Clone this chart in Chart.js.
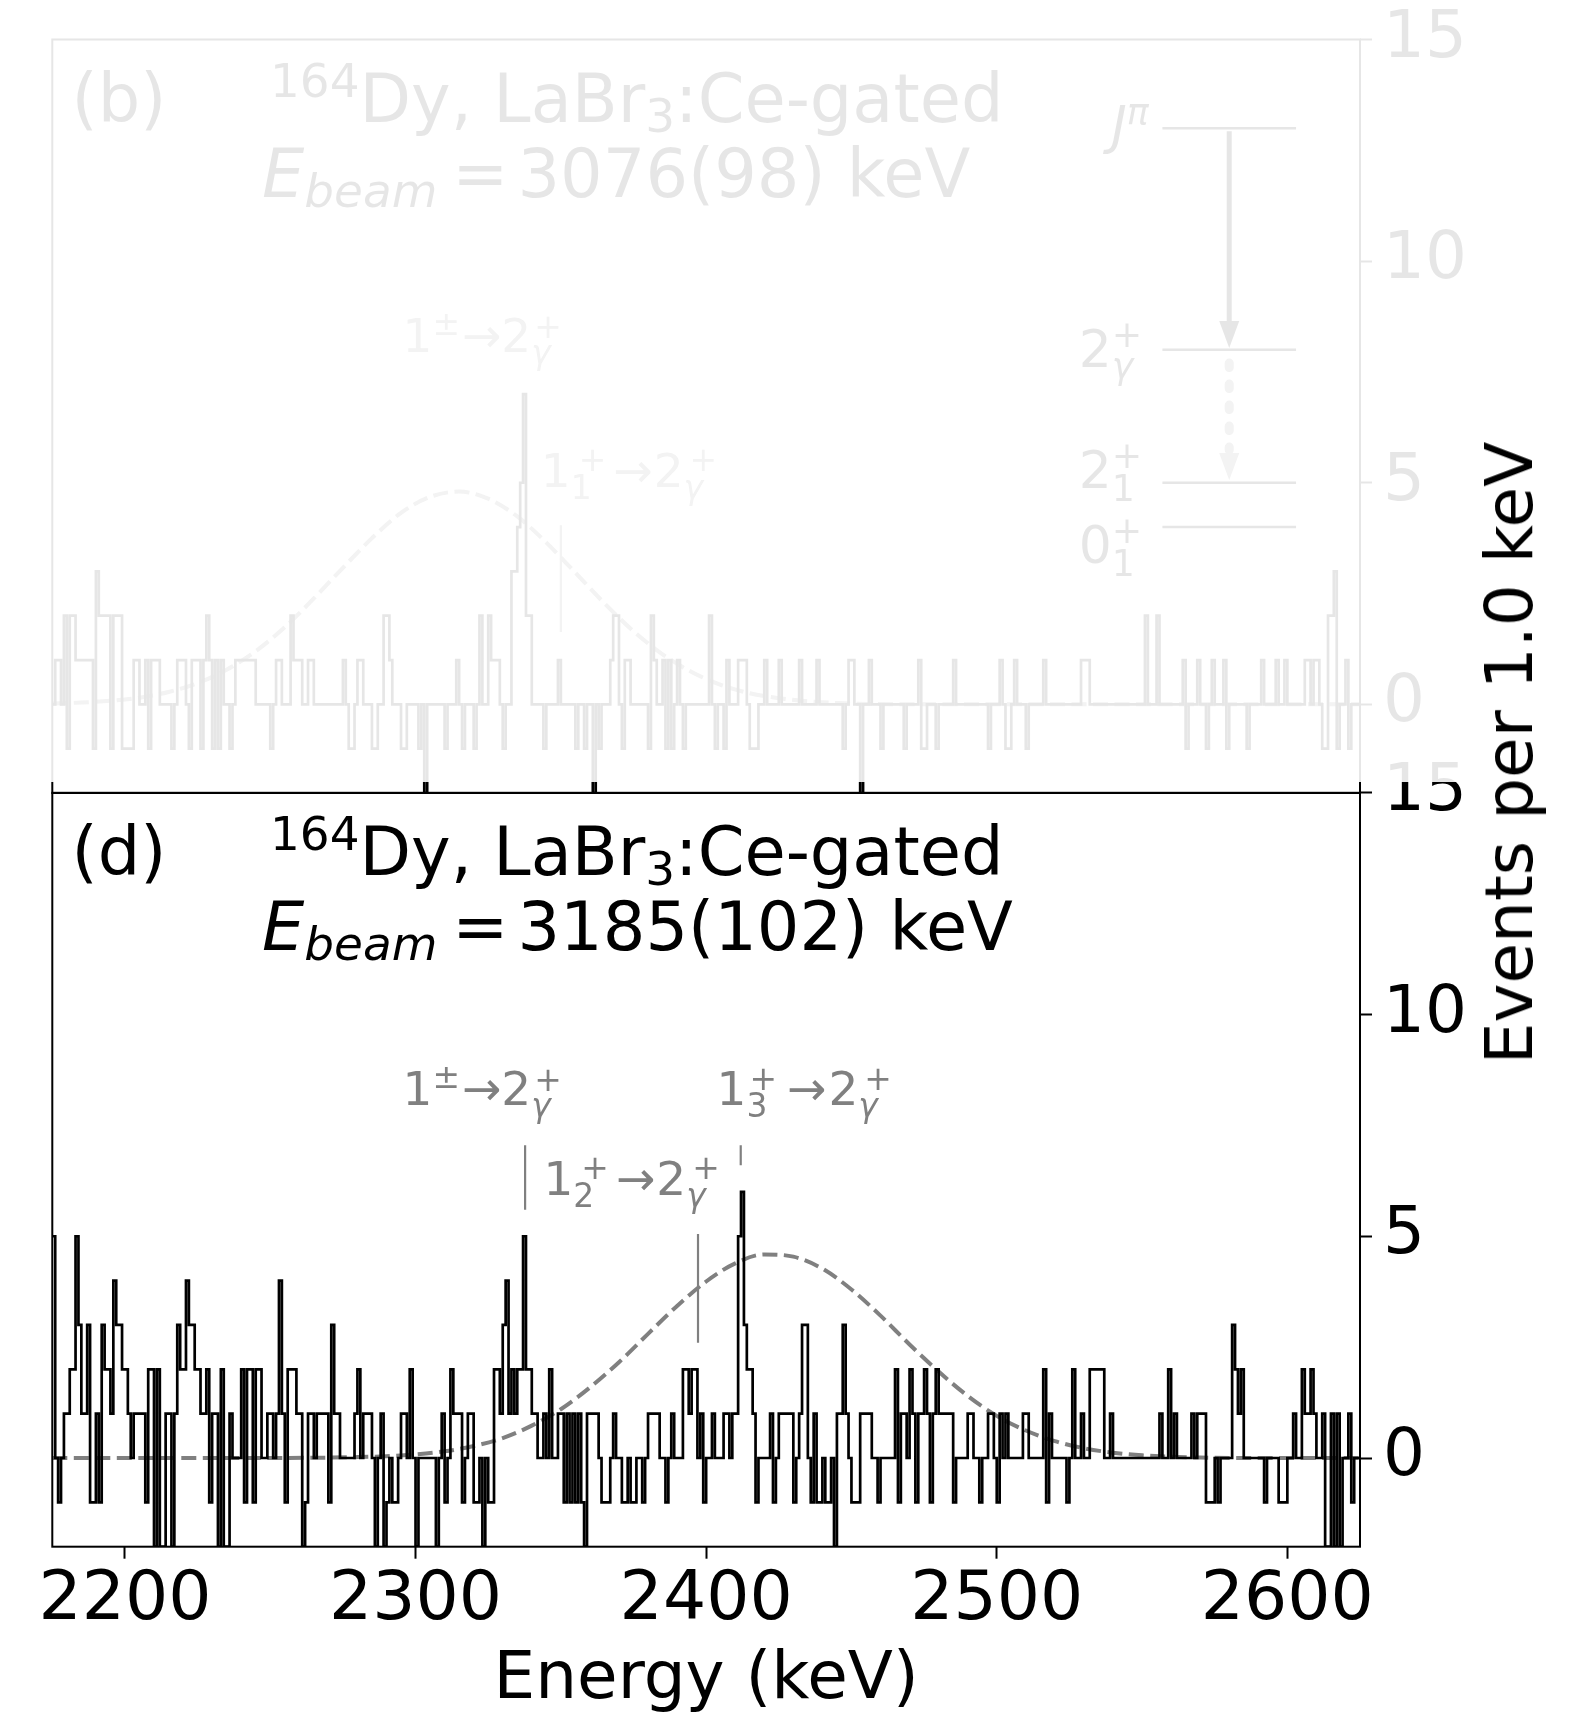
<!DOCTYPE html>
<html>
<head>
<meta charset="utf-8">
<script src="https://cdn.jsdelivr.net/npm/chart.js@4.4.0/dist/chart.umd.min.js"></script>
<style>
  html, body { margin: 0; padding: 0; background: #fff; }
  #wrap { position: relative; width: 1578px; height: 1712px; overflow: hidden; background: #fff; }
  #topCanvas { position: absolute; left: 0; top: 0; z-index: 2; }
  #botCanvas { position: absolute; left: 0; top: 700px; z-index: 1; }
  #ylab {
    position: absolute; left: 1510px; top: 753px; z-index: 3;
    transform: translate(-50%, -50%) rotate(-90deg);
    font: 66px "DejaVu Sans", sans-serif; line-height: 66px;
    white-space: nowrap; color: #000;
  }
</style>
</head>
<body>
<div id="wrap">
  <canvas id="botCanvas" width="1578" height="1012"></canvas>
  <canvas id="topCanvas" width="1578" height="800"></canvas>
  <div id="ylab">Events per 1.0 keV</div>
</div>
<script>
// ==========================================================================
// DATA (1 keV bins)
// ==========================================================================
const binStart = 2175;
const binWidth = 1;
const xRange = [2175, 2625];
const yRange = [-2, 15];
const xTicks = [2200, 2300, 2400, 2500, 2600];
const yTicks = [0, 5, 10, 15];

// panel (b): E_beam = 3076(98) keV (faded panel)
const countsB = [
  0, 1, 1, 0, 2,-1, 2, 2, 1, 1,
  1, 1, 1, 1,-1, 3, 2, 2, 2, 2,
 -1, 2, 2, 2,-1,-1,-1,-1, 1, 1,
  0, 0, 1,-1, 1, 1, 1, 0, 0, 0,
  0,-1, 0, 1, 1, 1, 0,-1, 1, 1,
  1,-1, 1, 2, 1,-1, 1,-1, 1, 0,
  0,-1, 0, 1, 1, 1, 1, 1, 1, 1,
  0, 0, 0, 0, 0,-1, 0, 1, 1, 0,
  0, 0, 2, 1, 1, 1, 0, 0, 1, 1,
  0, 0, 0, 0, 0, 0, 0, 0, 0, 0,
  1, 0,-1,-1, 0, 1, 1, 0, 0, 0,
 -1,-1, 0, 0, 2, 2, 1, 0, 0, 0,
 -1,-1, 0, 0, 0, 0,-1, 0,-2, 0,
  0, 0, 0, 0, 0,-1, 0, 0, 0, 1,
  0,-1, 0, 0, 0,-1, 0, 2, 0, 0,
  2, 1, 1, 1, 0,-1, 0, 0, 3, 3,
  4, 5, 7, 2, 2, 0, 0, 0, 0,-1,
  0, 0, 0, 0, 1, 0, 0, 0, 0, 0,
 -1, 0, 0,-1, 0, 0,-2, 0,-1, 0,
  0, 0, 1, 2, 2, 0,-1, 1, 1, 0,
  0, 0, 0, 0, 0,-1, 2, 1, 0, 0,
  1,-1, 1,-1, 0, 1, 0,-1, 0, 0,
  0, 0, 0, 0, 0, 0, 2, 0,-1, 0,
  0,-1, 1, 0, 0, 0, 1, 1, 1, 0,
 -1,-1,-1, 0, 0, 1, 0, 0, 0, 0,
  1, 0, 0, 0, 0, 0, 0, 1, 0, 0,
  0, 0, 0, 1, 0, 0, 0, 0, 0, 0,
  0, 0,-1, 0, 1, 1, 0, 0,-2, 0,
  0, 1, 0, 0, 0,-1, 0, 0, 0, 0,
  0, 0, 0,-1, 0, 0, 0, 0, 1,-1,
 -1, 0, 0, 0,-1, 0, 0, 0, 0, 0,
  1, 0, 0, 0, 0, 0, 0, 0, 0, 0,
  0, 0,-1, 0, 0, 0, 1, 0,-1,-1,
  0, 1, 0, 0, 0,-1, 0, 0, 0, 0,
  0, 1, 0, 0, 0, 0, 0, 0, 0, 0,
  0, 0, 0, 0, 1, 1, 1, 0, 0, 0,
  0, 0, 0, 0, 0, 0, 0, 0, 0, 0,
  0, 0, 0, 0, 0, 0, 2, 0, 0, 0,
  2, 0, 0, 0, 0, 0, 0, 0, 0, 1,
 -1, 0, 0, 0, 1, 0, 0,-1, 0, 1,
  0, 0, 0, 1,-1, 0, 0, 0, 0, 0,
  0,-1, 0, 0, 0, 0, 1, 0, 0, 0,
  0, 1, 0, 0, 1, 0, 0, 0, 0, 0,
  0, 1, 1, 0, 1, 1, 0,-1,-1, 2,
  2, 3,-1, 0, 0, 1,-1, 0, 0, 0
];

// panel (d): E_beam = 3185(102) keV
const countsD = [
  5, 0,-1, 0, 1, 1, 2, 2, 5, 3,
  1, 1, 3,-1,-1, 1,-1, 3, 2, 2,
  1, 4, 3, 3, 2, 2, 1, 0, 1, 1,
  1, 1,-1, 2, 2,-2, 2,-2,-2, 1,
  1,-2, 1, 3, 2, 2, 4, 3, 3, 2,
  2, 1, 1, 2,-1, 1, 1,-2, 2,-2,
 -2, 1, 0, 0, 0, 2,-1, 2, 2,-1,
  2, 2, 0, 0, 1, 1, 0, 1, 4, 1,
 -1, 2, 2, 2, 1, 1,-2,-1, 1, 1,
  0, 1, 1, 1, 1,-1, 3, 1, 1, 0,
  0, 0, 0, 0, 1, 2, 0, 1, 1, 1,
  0,-2, 0, 1,-2,-1, 0,-1,-1, 0,
  1, 1, 0, 2, 0,-2, 0, 0, 0, 0,
  0, 0,-2, 0, 1,-1, 0, 2, 1, 1,
  1,-1, 0, 1, 1,-1,-1, 0,-2, 0,
 -1,-1, 2, 2, 1, 3, 4, 1, 2, 1,
  2, 2, 5, 2, 2, 1, 1, 0, 0, 1,
  0, 2, 0, 0, 1, 1,-1, 1,-1, 1,
 -1, 1,-1,-2, 1, 1, 1, 1, 0,-1,
 -1,-1, 0, 1, 0, 0,-1,-1, 0,-1,
 -1, 0, 0,-1, 0, 1, 1, 1, 1, 0,
  0,-1, 0, 1, 0, 0, 0, 2, 2, 1,
  2, 2, 0, 1,-1, 0, 0, 1, 0, 0,
  0, 1, 1, 0, 1, 1, 5, 6, 3, 2,
  2, 1,-1, 0, 0, 0, 0, 1,-1, 0,
  1, 1, 1, 1, 1,-1, 0, 1, 3, 3,
  0,-1, 1,-1,-1, 0,-1,-1, 0,-2,
  1, 1, 3, 1, 0,-1,-1,-1, 1, 1,
  1, 1, 0, 0,-1, 0, 0, 0, 0, 0,
  2,-1, 1, 1, 0, 2, 1,-1, 1, 1,
  2, 1,-1, 1, 2, 1, 1, 1, 1, 1,
 -1, 0, 0, 0, 0, 1, 1, 0, 0,-1,
  0, 0, 1, 1, 0,-1, 1, 0, 1, 0,
  0, 0, 0, 0, 1, 1, 0, 0, 0, 0,
  0, 2,-1, 1, 0, 0, 0, 0, 0,-1,
  0, 2, 0, 0, 1, 0, 0, 2, 2, 2,
  2, 2, 0, 0, 1, 0, 0, 0, 0, 0,
  0, 0, 0, 0, 0, 0, 0, 0, 0, 0,
  0, 1, 0, 0, 2, 0, 1, 0, 0, 0,
  0, 0, 1, 0, 1, 1, 1,-1,-1,-1,
  0,-1, 0, 0, 0, 0, 3, 2, 1, 2,
  0, 0, 0, 0, 0, 0, 0,-1, 0, 0,
  0, 0,-1,-1,-1, 0, 0, 1, 0, 0,
  2, 1, 1, 2, 1, 0, 0, 1,-2,-2,
  1,-2, 1,-2, 0, 0, 1,-1, 0, 0
];

// expected beam-profile curves (dashed), sampled off the figure
const beamEB = [2175, 2185, 2195, 2205, 2215, 2225, 2235, 2245, 2255, 2265, 2275, 2285, 2295, 2305, 2315,
                2325, 2335, 2345, 2355, 2365, 2375, 2385, 2395, 2405, 2415, 2425, 2435, 2445, 2455, 2470, 2500, 2625];
const beamVB = [0.02, 0.04, 0.08, 0.15, 0.28, 0.48, 0.78, 1.20, 1.74, 2.39, 3.08, 3.75, 4.32, 4.68, 4.80,
                4.64, 4.24, 3.65, 2.97, 2.28, 1.65, 1.13, 0.73, 0.44, 0.25, 0.14, 0.07, 0.03, 0.01, 0, 0, 0];
const beamED = [2175, 2200, 2250, 2280, 2290, 2300, 2310, 2320, 2330, 2340, 2350, 2360, 2370, 2380, 2390, 2400,
                2410, 2420, 2430, 2440, 2450, 2460, 2470, 2480, 2490, 2500, 2510, 2520, 2530, 2540, 2550, 2560, 2570, 2590, 2625];
const beamVD = [0, 0, 0, 0.02, 0.04, 0.08, 0.15, 0.27, 0.45, 0.73, 1.10, 1.59, 2.16, 2.80, 3.43, 3.98,
                4.39, 4.59, 4.54, 4.27, 3.80, 3.21, 2.56, 1.95, 1.40, 0.95, 0.62, 0.38, 0.22, 0.12, 0.06, 0.03, 0.01, 0, 0];

// transition markers (energy, from, to)
const markEB = [2350];
const markLoB = [1.63];
const markHiB = [4.04];
const markED = [2337.7, 2397.2, 2411.9];
const markLoD = [5.6, 2.6, 6.6];
const markHiD = [7.05, 5.05, 7.05];

// ==========================================================================
// HELPERS
// ==========================================================================
const FONT = '"DejaVu Sans", "Liberation Sans", sans-serif';
const GRAY = '#808080';

function stepPoints(counts) {
    const pts = counts.map((c, i) => ({ x: binStart + i * binWidth, y: c }));
    pts.push({ x: binStart + counts.length * binWidth, y: counts[counts.length - 1] });
    return pts;
}

function curvePoints(es, vs) {
    return es.map((e, i) => ({ x: e, y: vs[i] }));
}

function markPoints(es, lo, hi) {
    const pts = [];
    es.forEach((e, i) => {
        pts.push({ x: e, y: lo[i] }, { x: e, y: hi[i] }, { x: e, y: null });
    });
    return pts;
}

// text with super/subscripts: strings, or {t, s(scale), dx, dy, it, hold} or {gap}
function drawRich(ctx, x, y, parts, size, color) {
    ctx.save();
    ctx.fillStyle = color;
    ctx.textAlign = 'left';
    ctx.textBaseline = 'alphabetic';
    let cx = x, held = 0;
    for (const p of parts) {
        const seg = typeof p === 'string' ? { t: p } : p;
        if (seg.gap !== undefined) { cx += seg.gap; continue; }
        const fs = size * (seg.s || 1);
        ctx.font = (seg.it ? 'italic ' : '') + fs + 'px ' + FONT;
        const w = ctx.measureText(seg.t).width + (seg.dx || 0);
        ctx.fillText(seg.t, cx + (seg.dx || 0), y + (seg.dy || 0));
        if (seg.hold) { held = Math.max(held, w); continue; }
        cx += Math.max(held, w);
        held = 0;
    }
    ctx.restore();
}

// label pieces
const SUP = (t, dy, dx) => ({ t, s: 0.7, dy: dy, dx: dx || 0, hold: true });
const SUB = (t, dy, it) => ({ t, s: 0.7, dy: dy, it: !!it });

const lblPM   = ['1', { t: '\u00b1', s: 0.7, dy: -17 }, { gap: 2 }, '\u2192', '2', SUP('+', -14, 3), SUB('\u03b3', 12, true)];
const lbl1of1 = ['1', SUP('+', -16, 8), SUB('1', 12), { gap: 7 }, '\u2192', { gap: 1 }, '2', SUP('+', -16, 6), SUB('\u03b3', 12, true)];
const lbl1of2 = ['1', SUP('+', -16, 8), SUB('2', 12), { gap: 7 }, '\u2192', { gap: 1 }, '2', SUP('+', -16, 6), SUB('\u03b3', 12, true)];
const lbl1of3 = ['1', SUP('+', -15, 3), SUB('3', 12), { gap: 10 }, '\u2192', { gap: 2 }, '2', SUP('+', -15, 6), SUB('\u03b3', 12, true)];

// ==========================================================================
// PLUGINS
// ==========================================================================
function framePlugin(color) {
    return {
        id: 'frame',
        afterDatasetsDraw(chart) {
            const { ctx, chartArea: a } = chart;
            ctx.save();
            ctx.strokeStyle = color;
            ctx.lineWidth = 2;
            ctx.strokeRect(a.left, a.top, a.right - a.left, a.bottom - a.top);
            ctx.restore();
        }
    };
}

function titlePlugin(tag, beamText, labels) {
    return {
        id: 'titles',
        afterDatasetsDraw(chart) {
            const { ctx, chartArea: a, scales } = chart;
            drawRich(ctx, 71.5, a.top + 82, [tag], 67, '#000');
            drawRich(ctx, 270, a.top + 82,
                [{ t: '164', s: 0.7, dy: -25 }, 'Dy, LaBr', { t: '3', s: 0.7, dy: 10 }, ':Ce-gated'], 67, '#000');
            drawRich(ctx, 262, a.top + 157,
                [{ t: 'E', it: true }, { t: 'beam', s: 0.7, dy: 10, it: true }, { gap: 15 }, '=', { gap: 9 }, beamText], 67, '#000');
            labels.forEach(l => {
                drawRich(ctx, scales.x.getPixelForValue(l.e), scales.y.getPixelForValue(l.v), l.parts, 47, GRAY);
            });
        }
    };
}

// level scheme drawn in panel (b)
const levelY = [13, 8, 5, 4];
const levelE = [2557, 2603];
const levelLabels = [
    { e: 2539.5, v: 12.67, parts: [{ t: 'J', it: true }, { t: '\u03c0', s: 0.7, dy: -19, it: true }] },
    { e: 2528.2, v: 7.61, parts: ['2', SUP('+', -20), SUB('\u03b3', 11, true)] },
    { e: 2528.2, v: 4.89, parts: ['2', SUP('+', -20), SUB('1', 13)] },
    { e: 2528.2, v: 3.18, parts: ['0', SUP('+', -20), SUB('1', 13)] }
];
const arrowE = 2580;
const arrowSolid = [12.93, 8.04];
const arrowDotted = [7.79, 5.06];

function arrowHead(ctx, x, yTip, color) {
    ctx.fillStyle = color;
    ctx.beginPath();
    ctx.moveTo(x, yTip);
    ctx.lineTo(x - 10, yTip - 27);
    ctx.lineTo(x + 10, yTip - 27);
    ctx.closePath();
    ctx.fill();
}

const schemePlugin = {
    id: 'scheme',
    afterDatasetsDraw(chart) {
        const { ctx, scales } = chart;
        const px = e => scales.x.getPixelForValue(e);
        const py = v => scales.y.getPixelForValue(v);
        ctx.save();
        ctx.strokeStyle = '#000';
        ctx.lineWidth = 2.5;
        levelY.forEach(v => {
            ctx.beginPath();
            ctx.moveTo(px(levelE[0]), py(v));
            ctx.lineTo(px(levelE[1]), py(v));
            ctx.stroke();
        });
        levelLabels.forEach(l => drawRich(ctx, px(l.e), py(l.v), l.parts, 52, '#000'));
        const ax = px(arrowE);
        // solid arrow
        ctx.lineWidth = 5;
        ctx.beginPath();
        ctx.moveTo(ax, py(arrowSolid[0]));
        ctx.lineTo(ax, py(arrowSolid[1]) - 26);
        ctx.stroke();
        arrowHead(ctx, ax, py(arrowSolid[1]), '#000');
        // dotted arrow
        ctx.strokeStyle = GRAY;
        ctx.lineWidth = 9;
        ctx.lineCap = 'round';
        ctx.setLineDash([4.4, 16.6]);
        ctx.beginPath();
        ctx.moveTo(ax, py(arrowDotted[0]) + 4);
        ctx.lineTo(ax, py(arrowDotted[1]) - 30);
        ctx.stroke();
        ctx.setLineDash([]);
        arrowHead(ctx, ax, py(arrowDotted[1]), GRAY);
        ctx.restore();
    }
};

// white veil that fades the upper panel
const veilPlugin = {
    id: 'veil',
    afterDraw(chart) {
        const ctx = chart.ctx;
        ctx.save();
        ctx.fillStyle = 'rgba(255,255,255,0.9)';
        ctx.fillRect(0, 0, chart.width, 782);
        ctx.restore();
    }
};

const xAxisPlugin = {
    id: 'xtitle',
    afterDraw(chart) {
        const { ctx, chartArea: a } = chart;
        ctx.save();
        ctx.fillStyle = '#000';
        ctx.font = '66px ' + FONT;
        ctx.textAlign = 'center';
        ctx.textBaseline = 'alphabetic';
        ctx.fillText('Energy (keV)', (a.left + a.right) / 2, 998);
        ctx.restore();
    }
};

// ==========================================================================
// CHART FACTORY
// ==========================================================================
function yScale() {
    return {
        type: 'linear', position: 'right', min: yRange[0], max: yRange[1],
        afterBuildTicks: s => { s.ticks = yTicks.map(v => ({ value: v })); },
        afterFit: s => { s.width = 218; s.paddingTop = 0; s.paddingBottom = 0; },
        ticks: { font: { family: FONT, size: 66 }, color: '#000', padding: 11, callback: v => String(v) },
        grid: { display: true, drawOnChartArea: false, drawTicks: true, tickLength: 12, tickWidth: 2, tickColor: '#000' },
        border: { display: false }
    };
}

function datasets(counts, beamE, beamV, mE, mLo, mHi) {
    return [
        {
            data: stepPoints(counts), stepped: true, borderColor: '#000', borderWidth: 2.7,
            pointRadius: 0, fill: false, clip: 0, borderJoinStyle: 'miter'
        },
        {
            data: markPoints(mE, mLo, mHi), borderColor: GRAY, borderWidth: 2.2,
            pointRadius: 0, fill: false, spanGaps: false
        },
        {
            data: curvePoints(beamE, beamV), borderColor: GRAY, borderWidth: 4, borderDash: [15, 6.5],
            cubicInterpolationMode: 'monotone', pointRadius: 0, fill: false, clip: 0
        }
    ];
}

const baseOptions = {
    responsive: false, animation: false, devicePixelRatio: 1, events: [],
    plugins: { legend: { display: false }, tooltip: { enabled: false } }
};

// panel (b)
new Chart(document.getElementById('topCanvas'), {
    type: 'line',
    data: { datasets: datasets(countsB, beamEB, beamVB, markEB, markLoB, markHiB) },
    options: {
        ...baseOptions,
        layout: { padding: { left: 52.3, top: 39.5, right: 0, bottom: 7 } },
        scales: {
            x: { type: 'linear', min: xRange[0], max: xRange[1], display: false },
            y: yScale()
        }
    },
    plugins: [
        framePlugin('#000'),
        titlePlugin('(b)', '3076(98) keV', [
            { e: 2295.5, v: 7.95, parts: lblPM },
            { e: 2343.1, v: 4.9, parts: lbl1of1 }
        ]),
        schemePlugin,
        veilPlugin
    ]
});

// panel (d)
new Chart(document.getElementById('botCanvas'), {
    type: 'line',
    data: { datasets: datasets(countsD, beamED, beamVD, markED, markLoD, markHiD) },
    options: {
        ...baseOptions,
        layout: { padding: { left: 52.3, top: 92.8, right: 0, bottom: 0 } },
        scales: {
            x: {
                type: 'linear', position: 'bottom', min: xRange[0], max: xRange[1],
                afterBuildTicks: s => { s.ticks = xTicks.map(v => ({ value: v })); },
                afterFit: s => { s.height = 165.3; s.paddingLeft = 0; s.paddingRight = 0; },
                ticks: { font: { family: FONT, size: 68 }, color: '#000', padding: 2, maxRotation: 0, autoSkip: false, callback: v => String(v) },
                grid: { display: true, drawOnChartArea: false, drawTicks: true, tickLength: 12, tickWidth: 2, tickColor: '#000' },
                border: { display: false }
            },
            y: yScale()
        }
    },
    plugins: [
        framePlugin('#000'),
        titlePlugin('(d)', '3185(102) keV', [
            { e: 2295.5, v: 7.95, parts: lblPM },
            { e: 2403.6, v: 7.95, parts: lbl1of3 },
            { e: 2344.0, v: 5.92, parts: lbl1of2 }
        ]),
        xAxisPlugin
    ]
});
</script>
</body>
</html>
